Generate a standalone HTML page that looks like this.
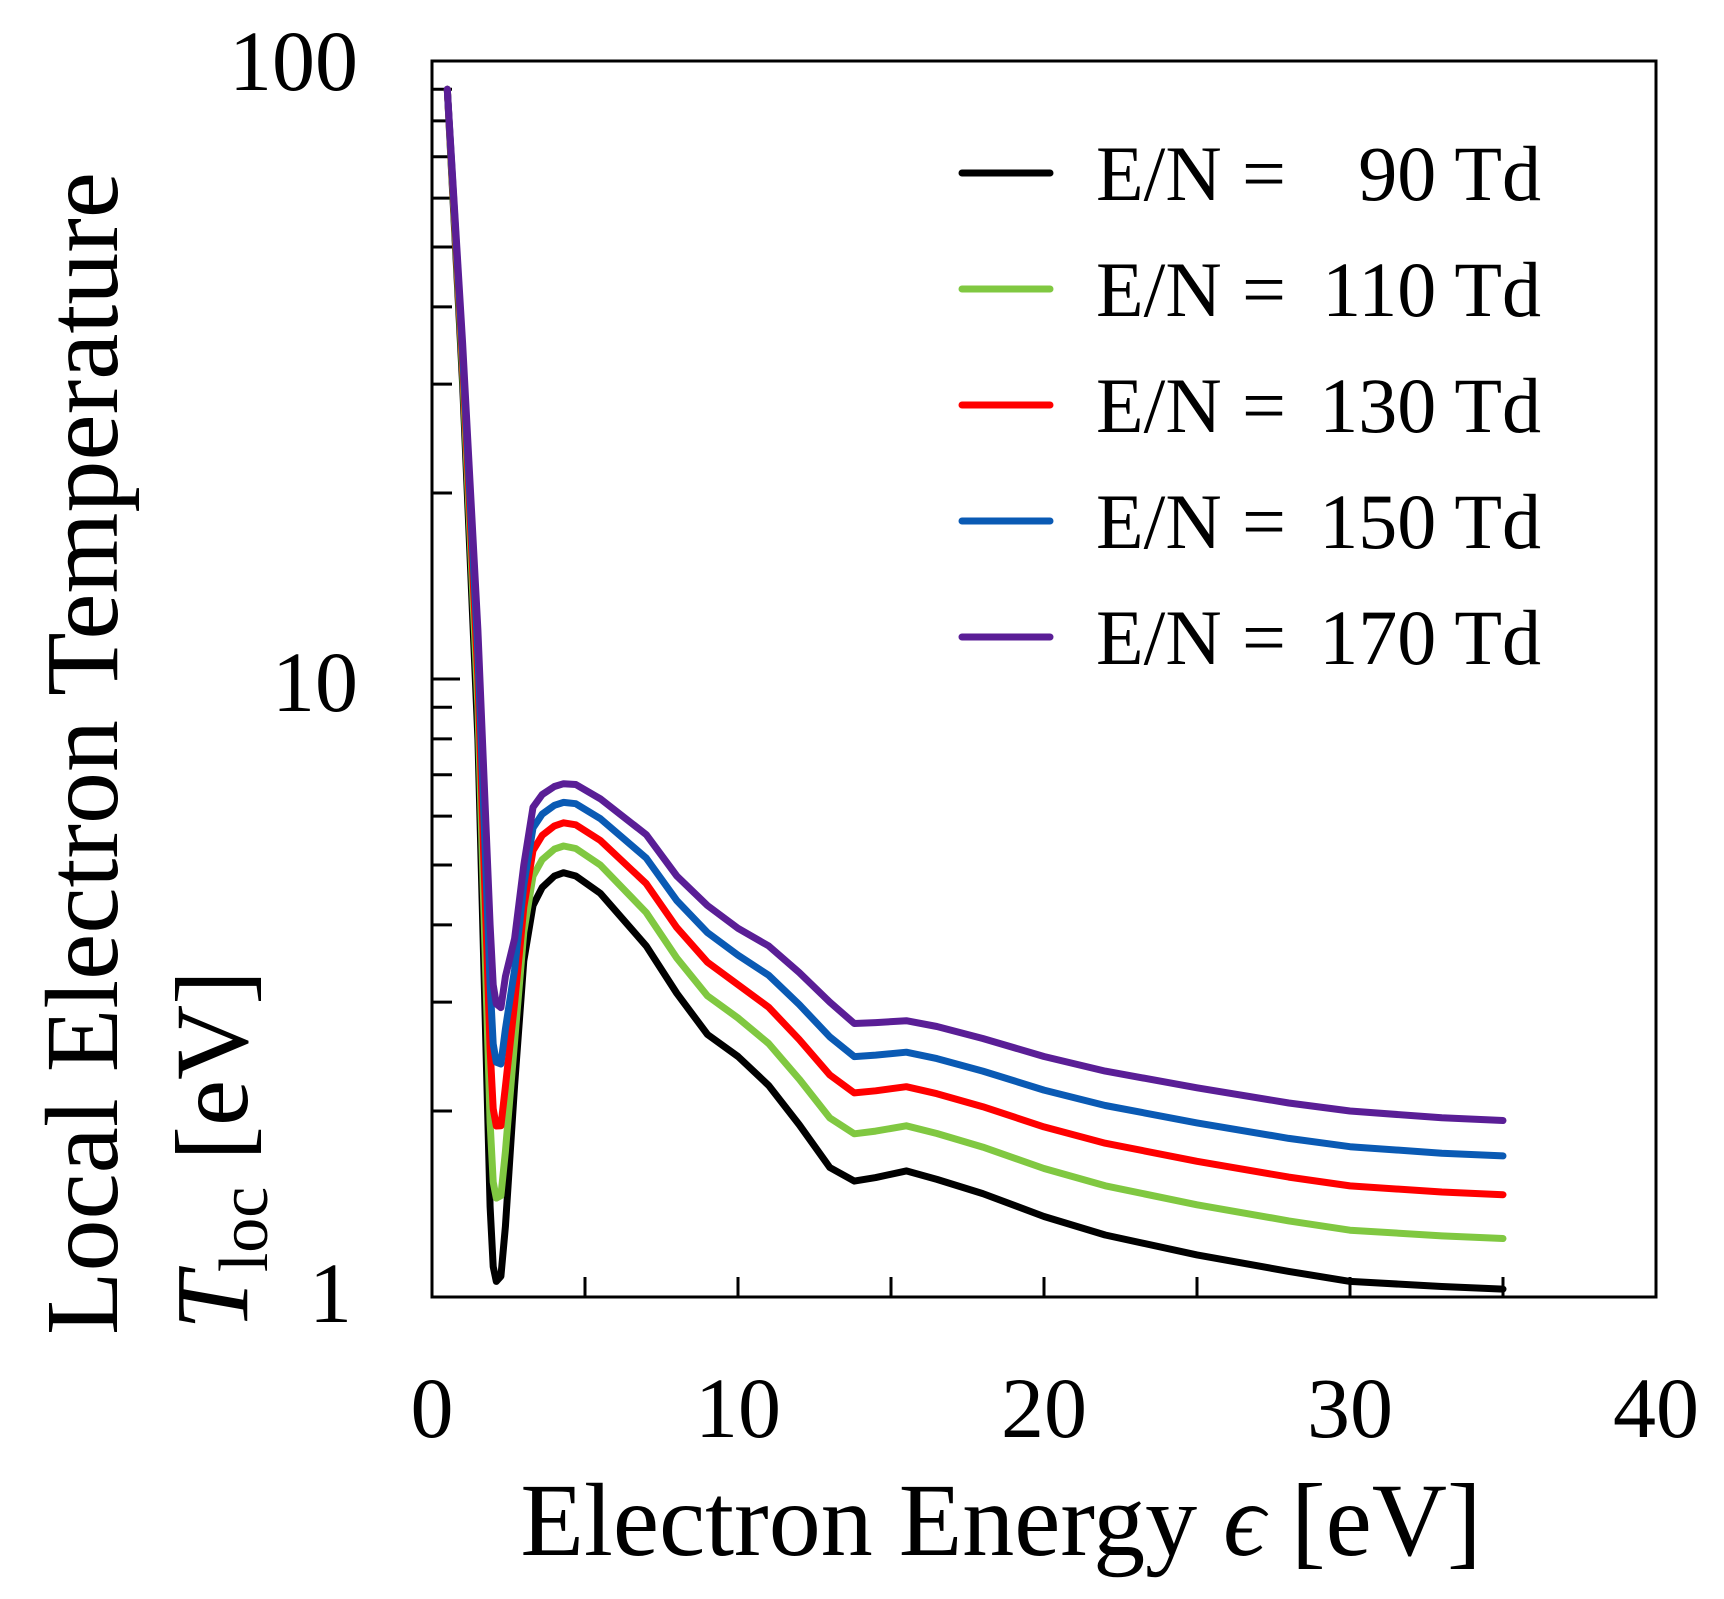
<!DOCTYPE html>
<html><head><meta charset="utf-8"><style>
html,body{margin:0;padding:0;background:#fff;}
svg{display:block;}
text{font-family:"Liberation Serif",serif;fill:#000;}
</style></head><body>
<svg id="s" width="1724" height="1599" viewBox="0 0 1724 1599" xmlns="http://www.w3.org/2000/svg">
<rect width="1724" height="1599" fill="#fff"/>
<g id="ticks" stroke="#000" stroke-width="3"></g>
<g id="curves" fill="none" stroke-width="7" stroke-linejoin="round" stroke-linecap="round"></g>
<rect x="432" y="61" width="1224" height="1236" fill="none" stroke="#000" stroke-width="3"/>
<g font-size="86" text-anchor="end">
<text x="358" y="90">100</text>
<text x="358" y="711">10</text>
<text x="352" y="1322">1</text>
</g>
<g font-size="86" text-anchor="middle">
<text x="432" y="1437">0</text>
<text x="738" y="1437">10</text>
<text x="1044" y="1437">20</text>
<text x="1350" y="1437">30</text>
<text x="1656" y="1437">40</text>
</g>
<text x="1001" y="1555" font-size="104" text-anchor="middle">Electron Energy <tspan font-style="italic">ϵ</tspan> [eV]</text>
<text transform="translate(117,1335) rotate(-90)" font-size="104">Local Electron Temperature</text>
<text transform="translate(247,1330) rotate(-90)" font-size="104"><tspan font-style="italic">T</tspan><tspan font-size="70" dy="20">loc</tspan><tspan dy="-20"> [eV]</tspan></text>
<g stroke-width="7" stroke-linecap="round">
<line x1="962" y1="173" x2="1050" y2="173" stroke="#000"/>
<line x1="962" y1="289" x2="1050" y2="289" stroke="#80c841"/>
<line x1="962" y1="405" x2="1050" y2="405" stroke="#ff0000"/>
<line x1="962" y1="521" x2="1050" y2="521" stroke="#0a5ab4"/>
<line x1="962" y1="637" x2="1050" y2="637" stroke="#5a1e96"/>
</g>
<g font-size="78">
<text x="1096" y="200">E/N</text><text x="1264" y="200" text-anchor="middle">=</text><text x="1541" y="200" text-anchor="end">90 Td</text>
<text x="1096" y="316">E/N</text><text x="1264" y="316" text-anchor="middle">=</text><text x="1541" y="316" text-anchor="end">110 Td</text>
<text x="1096" y="432">E/N</text><text x="1264" y="432" text-anchor="middle">=</text><text x="1541" y="432" text-anchor="end">130 Td</text>
<text x="1096" y="548">E/N</text><text x="1264" y="548" text-anchor="middle">=</text><text x="1541" y="548" text-anchor="end">150 Td</text>
<text x="1096" y="664">E/N</text><text x="1264" y="664" text-anchor="middle">=</text><text x="1541" y="664" text-anchor="end">170 Td</text>
</g>
</svg>
<script>
var X0=432,PX=30.6,YB=1297,DEC=618;
function px(x){return X0+x*PX;}
function py(t){return YB-Math.log10(t)*DEC;}
var NS="http://www.w3.org/2000/svg";
var tk=document.getElementById('ticks');
function line(x1,y1,x2,y2){var l=document.createElementNS(NS,'line');l.setAttribute('x1',x1);l.setAttribute('y1',y1);l.setAttribute('x2',x2);l.setAttribute('y2',y2);tk.appendChild(l);}
[1,10].forEach(function(d){for(var k=2;k<=9;k++){var y=py(d*k);line(432,y,452,y);}});
line(432,py(10),460,py(10));
for(var x=5;x<40;x+=5){line(px(x),1297,px(x),1277);}
var xs=[0.5,1.0,1.5,1.9,2.0,2.1,2.25,2.4,2.7,3.0,3.3,3.6,4.0,4.3,4.7,5.5,7,8,9,10,11,12,13,13.8,14.5,15.5,16.5,18,20,22,25,28,30,33,35];
var blk=[90,30,8,1.4,1.12,1.06,1.08,1.3,2.2,3.5,4.3,4.6,4.8,4.86,4.8,4.5,3.7,3.1,2.66,2.45,2.2,1.9,1.62,1.54,1.56,1.60,1.55,1.47,1.35,1.26,1.17,1.10,1.06,1.04,1.03];
var pur=[90,35,12,4.0,3.2,2.98,2.94,3.3,3.8,5.0,6.2,6.5,6.7,6.77,6.75,6.4,5.6,4.8,4.3,3.95,3.7,3.35,3.0,2.77,2.78,2.80,2.74,2.62,2.45,2.32,2.18,2.06,2.0,1.95,1.93];
var ser=[[0,'#000'],[0.3,'#80c841'],[0.56,'#ff0000'],[0.79,'#0a5ab4'],[1,'#5a1e96']];
var g=document.getElementById('curves');
ser.forEach(function(s){var f=s[0];var d='';
for(var i=0;i<xs.length;i++){var t=Math.exp(Math.log(blk[i])*(1-f)+Math.log(pur[i])*f);d+=(i?'L':'M')+px(xs[i]).toFixed(1)+' '+py(t).toFixed(1);}
var p=document.createElementNS(NS,'path');p.setAttribute('d',d);p.setAttribute('stroke',s[1]);g.appendChild(p);});
</script>
</body></html>
